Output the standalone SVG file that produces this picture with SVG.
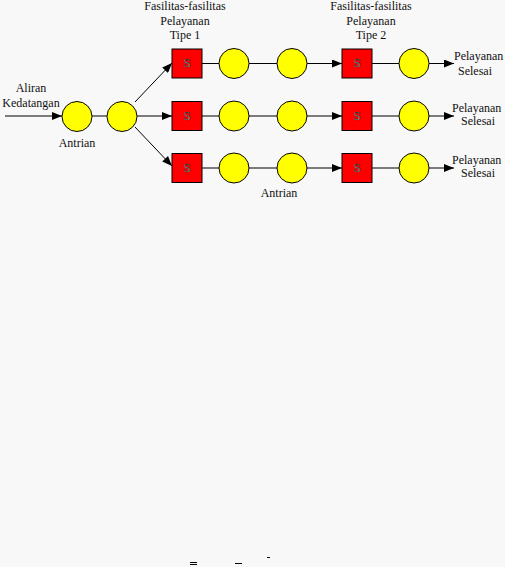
<svg xmlns="http://www.w3.org/2000/svg" width="505" height="567" viewBox="0 0 505 567">
<style>
.t{font-family:"Liberation Serif","Times New Roman",serif;font-size:12px;fill:#111;}
.c{fill:#ffff00;stroke:#000;stroke-width:1;}
.s{fill:#ff0000;stroke:#000;stroke-width:1;}
.sl{font-family:"Liberation Sans",Arial,sans-serif;font-size:10px;fill:#fff;stroke:#000;stroke-width:0.5;text-anchor:middle;}
.ln{stroke:#000;stroke-width:1;fill:none;}
.ar{stroke:#000;stroke-width:1;fill:none;marker-end:url(#ah);}
</style>
<defs>
<marker id="ah" viewBox="0 0 10 8" refX="10" refY="4" markerWidth="10" markerHeight="8" markerUnits="userSpaceOnUse" orient="auto">
<path d="M0,0 L10,4 L0,8 Z" fill="#000"/>
</marker>
</defs>
<rect width="505" height="567" fill="#f8f8f8"/>
<g id="connectors">
<line class="ar" x1="5" y1="116" x2="62" y2="116"/>
<line class="ln" x1="92" y1="116" x2="107" y2="116"/>
<line class="ar" x1="135" y1="102" x2="172" y2="63"/>
<line class="ar" x1="137" y1="116" x2="172" y2="116"/>
<line class="ar" x1="135" y1="127" x2="172" y2="166"/>
<line class="ln" x1="202" y1="63.5" x2="219" y2="63.5"/>
<line class="ln" x1="249" y1="63.5" x2="277" y2="63.5"/>
<line class="ar" x1="307" y1="63.5" x2="342" y2="63.5"/>
<line class="ln" x1="372" y1="63.5" x2="399" y2="63.5"/>
<line class="ar" x1="429" y1="63.5" x2="454" y2="63.5"/>
<line class="ln" x1="202" y1="116" x2="219" y2="116"/>
<line class="ln" x1="249" y1="116" x2="277" y2="116"/>
<line class="ar" x1="307" y1="116" x2="342" y2="116"/>
<line class="ln" x1="372" y1="116" x2="399" y2="116"/>
<line class="ar" x1="429" y1="116" x2="454" y2="116"/>
<line class="ln" x1="202" y1="168" x2="219" y2="168"/>
<line class="ln" x1="249" y1="168" x2="277" y2="168"/>
<line class="ar" x1="307" y1="168" x2="342" y2="168"/>
<line class="ln" x1="372" y1="168" x2="399" y2="168"/>
<line class="ar" x1="429" y1="168" x2="454" y2="168"/>
</g>
<g id="q1"><circle class="c" cx="77" cy="116.5" r="15"/></g>
<g id="q2"><circle class="c" cx="122" cy="116.5" r="15"/></g>
<g id="s1a"><rect class="s" x="172" y="49" width="30" height="29"/><text class="sl" x="187" y="67">S</text></g>
<g id="s1b"><rect class="s" x="172" y="101.5" width="30" height="29"/><text class="sl" x="187" y="119.5">S</text></g>
<g id="s1c"><rect class="s" x="172" y="153.5" width="30" height="29"/><text class="sl" x="187" y="171.5">S</text></g>
<g id="c1a"><circle class="c" cx="234" cy="63.5" r="15"/></g>
<g id="c1b"><circle class="c" cx="234" cy="116" r="15"/></g>
<g id="c1c"><circle class="c" cx="234" cy="168" r="15"/></g>
<g id="c2a"><circle class="c" cx="292" cy="63.5" r="15"/></g>
<g id="c2b"><circle class="c" cx="292" cy="116" r="15"/></g>
<g id="c2c"><circle class="c" cx="292" cy="168" r="15"/></g>
<g id="s2a"><rect class="s" x="342" y="49" width="30" height="29"/><text class="sl" x="357" y="67">S</text></g>
<g id="s2b"><rect class="s" x="342" y="101.5" width="30" height="29"/><text class="sl" x="357" y="119.5">S</text></g>
<g id="s2c"><rect class="s" x="342" y="153.5" width="30" height="29"/><text class="sl" x="357" y="171.5">S</text></g>
<g id="c3a"><circle class="c" cx="414" cy="63.5" r="15"/></g>
<g id="c3b"><circle class="c" cx="414" cy="116" r="15"/></g>
<g id="c3c"><circle class="c" cx="414" cy="168" r="15"/></g>
<g id="labels">
<text class="t" x="31" y="92" text-anchor="middle">Aliran</text>
<text class="t" x="31" y="107" text-anchor="middle">Kedatangan</text>
<text class="t" x="77" y="147" text-anchor="middle">Antrian</text>
<text class="t" x="279" y="197" text-anchor="middle">Antrian</text>
<text class="t" x="185" y="10" text-anchor="middle">Fasilitas-fasilitas</text>
<text class="t" x="185" y="24.5" text-anchor="middle">Pelayanan</text>
<text class="t" x="185" y="39" text-anchor="middle">Tipe 1</text>
<text class="t" x="371" y="10" text-anchor="middle">Fasilitas-fasilitas</text>
<text class="t" x="371" y="24.5" text-anchor="middle">Pelayanan</text>
<text class="t" x="371" y="39" text-anchor="middle">Tipe 2</text>
<text class="t" x="454" y="60">Pelayanan</text>
<text class="t" x="458" y="75">Selesai</text>
<text class="t" x="452" y="112">Pelayanan</text>
<text class="t" x="461" y="125">Selesai</text>
<text class="t" x="452" y="164">Pelayanan</text>
<text class="t" x="461" y="177">Selesai</text>
</g>
<g id="marks" stroke="#000" stroke-width="1">
<line x1="190" y1="562.5" x2="197" y2="562.5"/>
<line x1="190" y1="564.5" x2="197" y2="564.5"/>
<line x1="235" y1="563.5" x2="242" y2="563.5"/>
<line x1="267" y1="557.5" x2="270" y2="557.5"/>
</g>
</svg>
